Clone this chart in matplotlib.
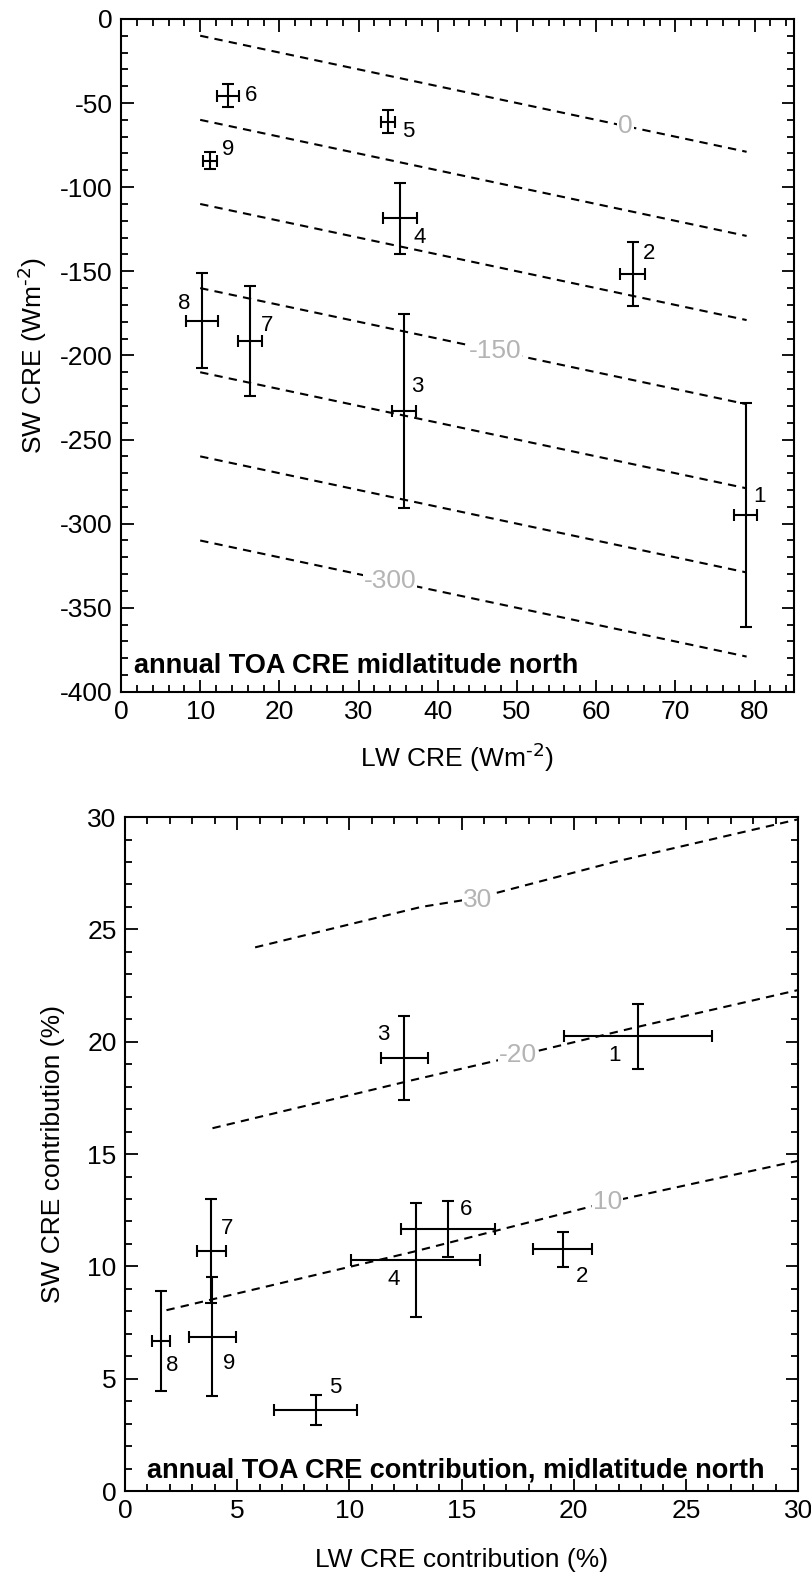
import numpy as np
import matplotlib
matplotlib.use("Agg")
import matplotlib.pyplot as plt
from matplotlib.ticker import MultipleLocator

plt.rcParams['font.family'] = ['Liberation Sans', 'DejaVu Sans']
plt.rcParams['axes.unicode_minus'] = False

# ---- top panel: annual TOA CRE (W m-2)
ids = ['1', '2', '3', '4', '5', '6', '7', '8', '9']
lw_cre = [78.9, 64.6, 35.7, 35.2, 33.7, 13.5, 16.3, 10.2, 11.2]
lw_cre_err = [1.45, 1.6, 1.5, 2.15, 0.9, 1.4, 1.5, 2.0, 0.9]
sw_cre = [-294.8, -151.6, -232.8, -118.5, -61.0, -45.6, -191.4, -179.3, -84.2]
sw_cre_err = [66.5, 19.0, 57.6, 21.0, 7.1, 6.9, 32.5, 28.3, 4.8]

# net CRE isolines (SW = level - LW)
net_levels = [0, -50, -100, -150, -200, -250, -300]
net_x = [10, 79]
net_labels = {0: ('0', 63.7), -150: ('-150', 47.2), -300: ('-300', 34.0)}

# ---- bottom panel: CRE contribution (%)
lw_pct = [22.85, 19.5, 12.45, 12.95, 8.5, 14.4, 3.85, 1.6, 3.9]
lw_pct_err = [3.3, 1.3, 1.04, 2.86, 1.85, 2.1, 0.65, 0.4, 1.05]
sw_pct = [20.25, 10.77, 19.26, 10.28, 3.6, 11.66, 10.68, 6.68, 6.87]
sw_pct_err = [1.45, 0.78, 1.87, 2.53, 0.67, 1.25, 2.32, 2.21, 2.66]

iso30_x = [5.8, 13.2, 15.7, 21.8, 30.0]
iso30_y = [24.2, 26.0, 26.4, 28.0, 29.9]
iso20_x = [3.9, 12.85, 17.6, 22.8, 30.0]
iso20_y = [16.15, 18.3, 19.4, 20.65, 22.3]
iso10_x = [1.85, 12.85, 21.5, 30.0]
iso10_y = [8.05, 10.65, 12.85, 14.7]

# label offsets (points) for the numbered points
top_off = [(10, 13), (12, 15), (10, 17), (14, -14), (15, -7), (17, 0), (12, 11), (-13, 12), (13, 8)]
bot_off = [(-17, -14), (14, -20), (-15, 17), (-16, -14), (14, 16), (13, 14), (11, 16), (8, -18), (12, -19)]

fig = plt.figure(figsize=(8.12, 15.74), dpi=100)
ax1 = fig.add_axes([0.149, 0.5604, 0.829, 0.4276])
ax2 = fig.add_axes([0.1539, 0.0527, 0.829, 0.4282])

grey = '#b4b4b4'
txt = 19
lbl_box = dict(facecolor='white', edgecolor='none', pad=0.5)


def style_axes(ax):
    for s in ax.spines.values():
        s.set_linewidth(1.5)
    ax.tick_params(which='both', direction='in', top=True, right=True,
                   labelsize=txt, width=1.3)
    ax.tick_params(which='major', length=9, pad=6)
    ax.tick_params(which='minor', length=5)


# top panel
for lev in net_levels:
    xs = np.array(net_x, dtype=float)
    ax1.plot(xs, lev - xs, color='k', lw=1.5, dashes=(4, 3), zorder=1)
    if lev in net_labels:
        s, xl = net_labels[lev]
        ax1.text(xl, lev - xl, s, color=grey, fontsize=txt, ha='center',
                 va='center', bbox=lbl_box, zorder=2)

ax1.errorbar(lw_cre, sw_cre, xerr=lw_cre_err, yerr=sw_cre_err, fmt='none',
             ecolor='k', elinewidth=1.5, capsize=4, capthick=1.5, zorder=3)
for i, n in enumerate(ids):
    ax1.annotate(n, (lw_cre[i], sw_cre[i]), xytext=top_off[i],
                 textcoords='offset points', ha='center', va='center', fontsize=16)

ax1.set_xlim(0, 85)
ax1.set_ylim(-400, 0)
ax1.xaxis.set_major_locator(MultipleLocator(10))
ax1.xaxis.set_minor_locator(MultipleLocator(2))
ax1.yaxis.set_major_locator(MultipleLocator(50))
ax1.yaxis.set_minor_locator(MultipleLocator(10))
style_axes(ax1)
ax1.set_xlabel('LW CRE (Wm$^{\\text{-2}}$)', fontsize=txt, labelpad=12)
ax1.set_ylabel('SW CRE (Wm$^{\\text{-2}}$)', fontsize=txt, labelpad=8)
ax1.text(1.6, -388.5, 'annual TOA CRE midlatitude north', fontsize=19.5,
         fontweight='bold', ha='left', va='baseline')

# bottom panel
for xs, ys in [(iso30_x, iso30_y), (iso20_x, iso20_y), (iso10_x, iso10_y)]:
    ax2.plot(xs, ys, color='k', lw=1.5, dashes=(4, 3), zorder=1, clip_on=False)
ax2.text(15.7, 26.3, '30', color=grey, fontsize=txt, ha='center', va='center', bbox=lbl_box, zorder=2)
ax2.text(17.5, 19.4, '-20', color=grey, fontsize=txt, ha='center', va='center', bbox=lbl_box, zorder=2)
ax2.text(21.5, 12.85, '10', color=grey, fontsize=txt, ha='center', va='center', bbox=lbl_box, zorder=2)

ax2.errorbar(lw_pct, sw_pct, xerr=lw_pct_err, yerr=sw_pct_err, fmt='none',
             ecolor='k', elinewidth=1.5, capsize=4, capthick=1.5, zorder=3)
for i, n in enumerate(ids):
    ax2.annotate(n, (lw_pct[i], sw_pct[i]), xytext=bot_off[i],
                 textcoords='offset points', ha='center', va='center', fontsize=16)

ax2.set_xlim(0, 30)
ax2.set_ylim(0, 30)
ax2.xaxis.set_major_locator(MultipleLocator(5))
ax2.xaxis.set_minor_locator(MultipleLocator(1))
ax2.yaxis.set_major_locator(MultipleLocator(5))
ax2.yaxis.set_minor_locator(MultipleLocator(1))
style_axes(ax2)
ax2.set_xlabel('LW CRE contribution (%)', fontsize=txt, labelpad=18)
ax2.set_ylabel('SW CRE contribution (%)', fontsize=txt, labelpad=16)
ax2.text(0.98, 0.6, 'annual TOA CRE contribution, midlatitude north', fontsize=19.5,
         fontweight='bold', ha='left', va='baseline')

fig.savefig('out.png', dpi=100)
